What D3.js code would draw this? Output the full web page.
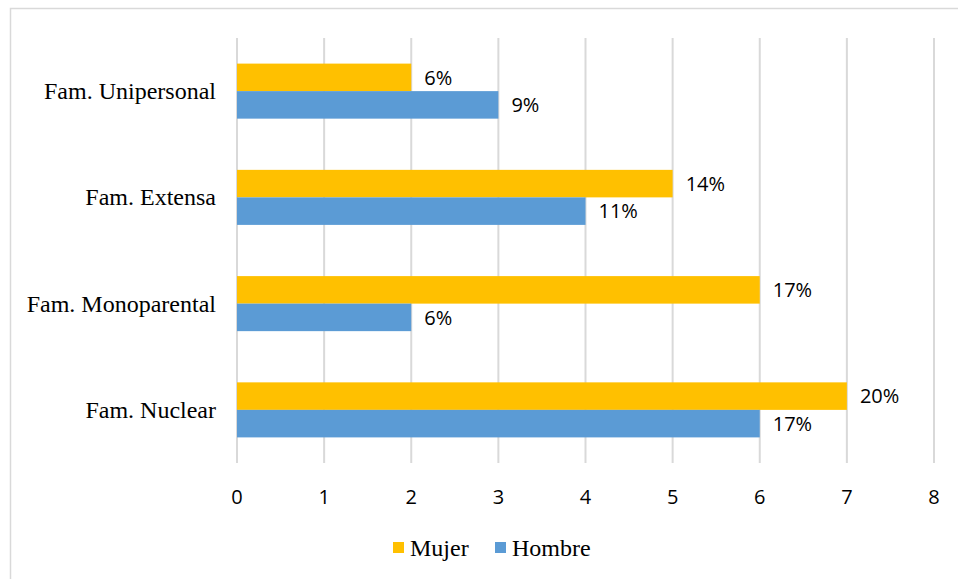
<!DOCTYPE html>
<html><head><meta charset="utf-8">
<script src="https://cdn.jsdelivr.net/npm/d3@7"></script>
<style>body{margin:0;background:#fff}</style>
</head><body>
<svg id="c" width="958" height="579"></svg>
<script>
const categories = ["Fam. Unipersonal", "Fam. Extensa", "Fam. Monoparental", "Fam. Nuclear"];
const seriesNames = ["Mujer", "Hombre"];
const mujer = [2, 5, 6, 7];
const hombre = [3, 4, 2, 6];
const mujerLabels = ["6%", "14%", "17%", "20%"];
const hombreLabels = ["9%", "11%", "6%", "17%"];
const xTicks = [0, 1, 2, 3, 4, 5, 6, 7, 8];
const colors = ["#FFC000", "#5B9BD5"];

(function () {
const svg = d3.select("#c");
svg.append("rect").attr("x", 10.5).attr("y", 8.5).attr("width", 960).attr("height", 600)
  .attr("fill", "#fff").attr("stroke", "#d9d9d9").attr("stroke-width", 1.5);

const pLeft = 237, pRight = 934, pTop = 38, pBottom = 463;
const x = d3.scaleLinear().domain([0, 8]).range([pLeft, pRight]);
const y = d3.scaleBand().domain(categories).range([pTop, pBottom]).paddingInner(0.482).paddingOuter(0.241);
const y1 = d3.scaleBand().domain(seriesNames).range([0, y.bandwidth()]);

svg.append("g").selectAll("line").data(xTicks).join("line")
  .attr("x1", d => x(d)).attr("x2", d => x(d)).attr("y1", pTop).attr("y2", pBottom)
  .attr("stroke", "#d9d9d9").attr("stroke-width", 2);

const sans = "Open Sans, sans-serif";
const series = [mujer, hombre];
const labels = [mujerLabels, hombreLabels];
series.forEach((vals, si) => {
  const g = svg.append("g");
  g.selectAll("rect").data(vals).join("rect")
    .attr("x", x(0)).attr("y", (d, i) => y(categories[i]) + y1(seriesNames[si]))
    .attr("width", d => x(d) - x(0)).attr("height", y1.bandwidth())
    .attr("fill", colors[si]);
  g.selectAll("text").data(vals).join("text")
    .attr("x", d => x(d) + 13).attr("y", (d, i) => y(categories[i]) + y1(seriesNames[si]) + y1.bandwidth() / 2)
    .attr("dy", "0.36em").attr("font-family", sans).attr("font-size", 20)
    .attr("fill", "#000").text((d, i) => labels[si][i]);
});

svg.append("g").selectAll("text").data(xTicks).join("text")
  .attr("x", d => x(d)).attr("y", 497).attr("dy", "0.36em").attr("text-anchor", "middle")
  .attr("font-family", sans).attr("font-size", 20).text(d => d);

svg.append("g").selectAll("text").data(categories).join("text")
  .attr("x", 216).attr("y", d => y(d) + y.bandwidth() / 2).attr("dy", "0.33em").attr("text-anchor", "end")
  .attr("font-family", "Liberation Serif, serif").attr("font-size", 24).text(d => d);

const leg = svg.append("g");
const legX = [393, 495];
seriesNames.forEach((n, i) => {
  leg.append("rect").attr("x", legX[i]).attr("y", 542).attr("width", 11).attr("height", 11).attr("fill", colors[i]);
  leg.append("text").attr("x", legX[i] + 17).attr("y", 548).attr("dy", "0.33em")
    .attr("font-family", "Liberation Serif, serif").attr("font-size", 24).text(n);
});
})();
</script>
</body></html>
